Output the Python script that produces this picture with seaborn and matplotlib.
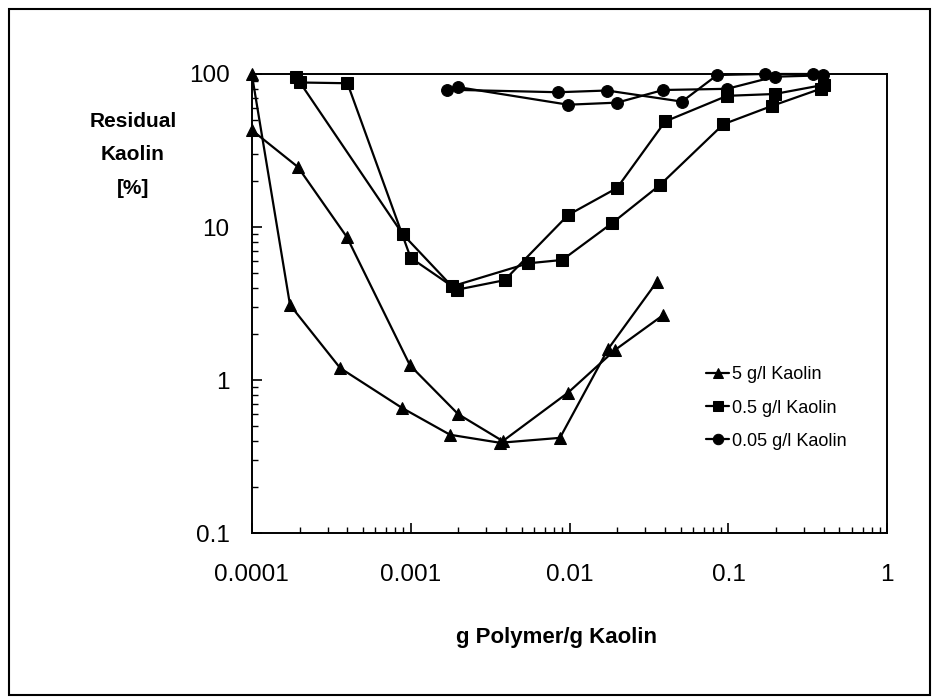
import numpy as np
import pandas as pd
import matplotlib
matplotlib.use("Agg")
import matplotlib.pyplot as plt
import seaborn as sns
from matplotlib.ticker import LogLocator, FixedLocator, NullFormatter, FuncFormatter
from matplotlib.patches import Rectangle

# 5 g/l Kaolin (two runs)
x_5a = [0.0001, 0.000174, 0.00036, 0.00088, 0.00177, 0.00365, 0.0087, 0.0175, 0.0355]
y_5a = [100, 3.1, 1.2, 0.66, 0.44, 0.39, 0.42, 1.6, 4.4]
x_5b = [0.0001, 0.000195, 0.000397, 0.00099, 0.00199, 0.0038, 0.0098, 0.0194, 0.0388]
y_5b = [43, 24.7, 8.6, 1.25, 0.6, 0.40, 0.83, 1.58, 2.66]

# 0.5 g/l Kaolin (two runs)
x_05a = [0.0002, 0.0004, 0.001, 0.00196, 0.0039, 0.0098, 0.0199, 0.040, 0.098, 0.195, 0.40]
y_05a = [88, 87, 6.3, 3.9, 4.5, 12, 18, 49, 72, 74, 85]
x_05b = [0.00019, 0.00089, 0.00182, 0.0055, 0.009, 0.0185, 0.037, 0.093, 0.189, 0.38]
y_05b = [96, 9.0, 4.1, 5.8, 6.1, 10.6, 18.8, 47, 62, 80]

# 0.05 g/l Kaolin (two runs)
x_005a = [0.0017, 0.0085, 0.0172, 0.051, 0.085, 0.17, 0.342]
y_005a = [79, 76, 78, 66, 98.5, 100, 100]
x_005b = [0.002, 0.0098, 0.0199, 0.0388, 0.098, 0.195, 0.395]
y_005b = [82, 63, 65, 78.6, 80, 96, 98]

labels = ["5 g/l Kaolin", "0.5 g/l Kaolin", "0.05 g/l Kaolin"]
marker_map = {labels[0]: "^", labels[1]: "s", labels[2]: "o"}

runs = [
    (labels[0], "a", x_5a, y_5a), (labels[0], "b", x_5b, y_5b),
    (labels[1], "a", x_05a, y_05a), (labels[1], "b", x_05b, y_05b),
    (labels[2], "a", x_005a, y_005a), (labels[2], "b", x_005b, y_005b),
]
frames = []
for conc, run, xs, ys in runs:
    frames.append(pd.DataFrame({"x": xs, "y": ys, "conc": conc, "run": run}))
df = pd.concat(frames, ignore_index=True)

sns.set_style("white")
plt.rcParams["font.family"] = ["Liberation Sans", "DejaVu Sans"]
plt.rcParams["text.color"] = "black"
plt.rcParams["axes.labelcolor"] = "black"
plt.rcParams["xtick.color"] = "black"
plt.rcParams["ytick.color"] = "black"

fig = plt.figure(figsize=(9.36, 6.98), dpi=100)
ax = fig.add_axes([0.269, 0.236, 0.679, 0.658])

sns.lineplot(data=df, x="x", y="y", style="conc", units="run", estimator=None,
             markers=marker_map, dashes=False, color="black", linewidth=1.6,
             markersize=8.5, markeredgecolor="black", sort=False, ax=ax)

for line in ax.lines:
    line.set_clip_on(False)

ax.set_xscale("log")
ax.set_yscale("log")
ax.set_xlim(1e-4, 1)
ax.set_ylim(0.1, 100)

fmt = FuncFormatter(lambda v, p: "{:g}".format(v))
ax.xaxis.set_major_locator(FixedLocator([1e-4, 1e-3, 1e-2, 1e-1, 1]))
ax.yaxis.set_major_locator(FixedLocator([0.1, 1, 10, 100]))
ax.xaxis.set_major_formatter(fmt)
ax.yaxis.set_major_formatter(fmt)
ax.xaxis.set_minor_locator(LogLocator(base=10, subs=np.arange(2, 10)))
ax.yaxis.set_minor_locator(LogLocator(base=10, subs=np.arange(2, 10)))
ax.xaxis.set_minor_formatter(NullFormatter())
ax.yaxis.set_minor_formatter(NullFormatter())

ax.tick_params(axis="both", which="both", bottom=True, left=True,
               top=False, right=False, direction="in", color="black")
ax.tick_params(axis="both", which="major", length=7, width=1.2, labelsize=17.5)
ax.tick_params(axis="both", which="minor", length=4, width=1.0)
ax.tick_params(axis="x", which="major", pad=22)
ax.tick_params(axis="y", which="major", pad=16)

for sp in ax.spines.values():
    sp.set_visible(True)
    sp.set_color("black")
    sp.set_linewidth(1.4)

ax.set_xlabel("g Polymer/g Kaolin", fontsize=16, fontweight="bold")
ax.xaxis.set_label_coords(0.479, -0.2266)
ax.xaxis.label.set_verticalalignment("center")
ax.set_ylabel("Residual\nKaolin\n[%]", fontsize=15, fontweight="bold",
              rotation=0, ha="center", va="center", linespacing=1.95)
ax.yaxis.set_label_coords(-0.187, 0.824)

handles, labs = ax.get_legend_handles_labels()
pairs = [(h, l) for h, l in zip(handles, labs) if l in labels]
for h, l in pairs:
    h.set_markersize(7.5)
ax.legend([p[0] for p in pairs], [p[1] for p in pairs], loc="upper left",
          bbox_to_anchor=(0.689, 0.399), frameon=False, fontsize=13,
          handlelength=1.3, handletextpad=0.15, labelspacing=0.9)

fig.patches.append(Rectangle((9 / 936, 1 - 695 / 698), 921 / 936, 686 / 698,
                             transform=fig.transFigure, fill=False,
                             edgecolor="black", linewidth=1.5))

fig.savefig("out.png", dpi=100)
